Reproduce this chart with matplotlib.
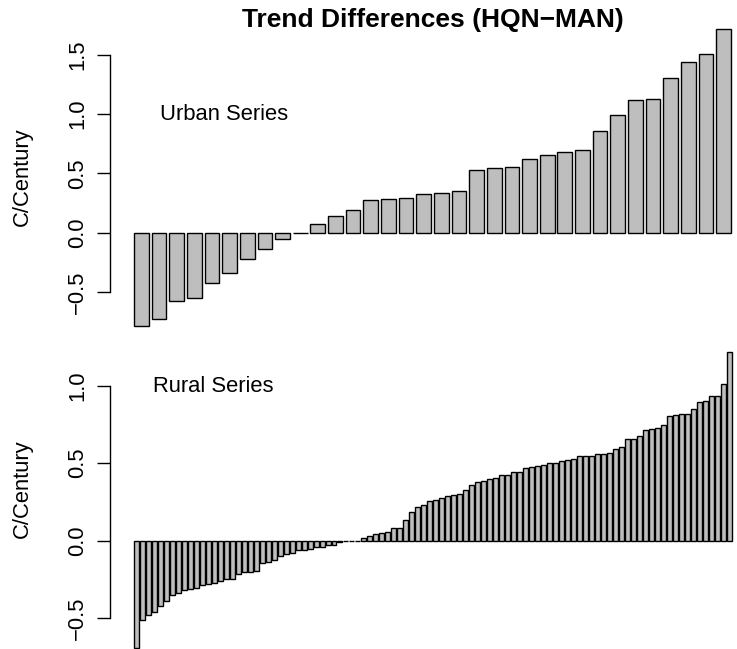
import numpy as np
import matplotlib
matplotlib.use("Agg")
import matplotlib.pyplot as plt

plt.rcParams['font.family'] = ['Liberation Sans', 'DejaVu Sans']

# ---- data ----
title = "Trend Differences (HQN\u2212MAN)"
ylabel = "C/Century"
urban_label = "Urban Series"
rural_label = "Rural Series"

urban = [-0.785, -0.732, -0.579, -0.551, -0.427, -0.336, -0.218, -0.141, -0.056, 0.001,
         0.071, 0.141, 0.195, 0.277, 0.282, 0.297, 0.328, 0.333, 0.356, 0.525,
         0.548, 0.554, 0.624, 0.653, 0.678, 0.695, 0.862, 0.992, 1.116, 1.124,
         1.305, 1.444, 1.508, 1.720]

rural = [-0.690, -0.514, -0.480, -0.460, -0.420, -0.390, -0.350, -0.340, -0.320, -0.310,
         -0.305, -0.285, -0.280, -0.270, -0.260, -0.250, -0.245, -0.215, -0.205, -0.200,
         -0.198, -0.147, -0.135, -0.125, -0.100, -0.085, -0.080, -0.062, -0.060, -0.055,
         -0.040, -0.039, -0.028, -0.027, -0.011, -0.003, -0.001, 0.001, 0.017, 0.029,
         0.046, 0.047, 0.054, 0.079, 0.082, 0.133, 0.186, 0.219, 0.228, 0.257,
         0.260, 0.278, 0.291, 0.296, 0.303, 0.327, 0.361, 0.378, 0.382, 0.400,
         0.403, 0.424, 0.425, 0.441, 0.445, 0.466, 0.474, 0.482, 0.490, 0.499,
         0.500, 0.516, 0.520, 0.529, 0.546, 0.548, 0.549, 0.557, 0.561, 0.566,
         0.591, 0.604, 0.654, 0.655, 0.673, 0.712, 0.720, 0.729, 0.744, 0.806,
         0.811, 0.815, 0.819, 0.849, 0.895, 0.903, 0.931, 0.935, 1.011, 1.215]

urban_ticks = [-0.5, 0.0, 0.5, 1.0, 1.5]
rural_ticks = [-0.5, 0.0, 0.5, 1.0]

W, H = 737, 649
fig = plt.figure(figsize=(W / 100, H / 100), dpi=100)

def px_axes(x0, x1, ytop, ybot):
    return fig.add_axes([x0 / W, (H - ybot) / H, (x1 - x0) / W, (ybot - ytop) / H])

def style(ax, ticks):
    for s in ['top', 'right', 'bottom']:
        ax.spines[s].set_visible(False)
    ax.spines['left'].set_bounds(ticks[0], ticks[-1])
    ax.spines['left'].set_linewidth(1.0)
    ax.set_xticks([])
    ax.set_yticks(ticks)
    ax.set_yticklabels([f"{t:.1f}".replace('-', '\u2212') for t in ticks],
                       rotation=90, va='center', fontsize=15.8)
    ax.tick_params(axis='y', length=9.4, width=1.0, pad=6.3)
    ax.patch.set_visible(False)

def barplot(ax, vals):
    n = len(vals)
    lefts = 0.2 + 1.2 * np.arange(n)
    ax.bar(lefts, vals, width=1.0, align='edge', color='#BEBEBE',
           edgecolor='black', linewidth=1.0)
    return lefts

# top panel
ax1 = px_axes(110, 737, 17.0, 337.6)
barplot(ax1, urban)
u1 = 597.0 / (1.2 * len(urban) - 0.2)
ax1.set_xlim(0.2 - 24 / u1, 0.2 + (737 - 134) / u1)
ax1.set_ylim(-0.885, 1.82)
style(ax1, urban_ticks)
ax1.text(0.2 + (224 - 134) / u1, 0.951, urban_label, ha='center', va='baseline', fontsize=15.8)

# bottom panel
ax2 = px_axes(110, 737, 340.6, 659.4)
barplot(ax2, rural)
u2 = 597.5 / (1.2 * len(rural) - 0.2)
ax2.set_xlim(0.2 - 24 / u2, 0.2 + (737 - 134) / u2)
ax2.set_ylim(-0.766, 1.291)
style(ax2, rural_ticks)
ax2.text(0.2 + (213 - 134) / u2, 0.961, rural_label, ha='center', va='baseline', fontsize=15.8)

# y labels
fig.text(22.4 / W, 1 - 177 / H, ylabel, rotation=90, ha='center', va='center', fontsize=15.8)
fig.text(22.4 / W, 1 - 489 / H, ylabel, rotation=90, ha='center', va='center', fontsize=15.8)

# title
fig.text(432.5 / W, 1 - 27 / H, title, ha='center', va='baseline', fontsize=19, fontweight='bold')

fig.savefig("out.png", dpi=100)
